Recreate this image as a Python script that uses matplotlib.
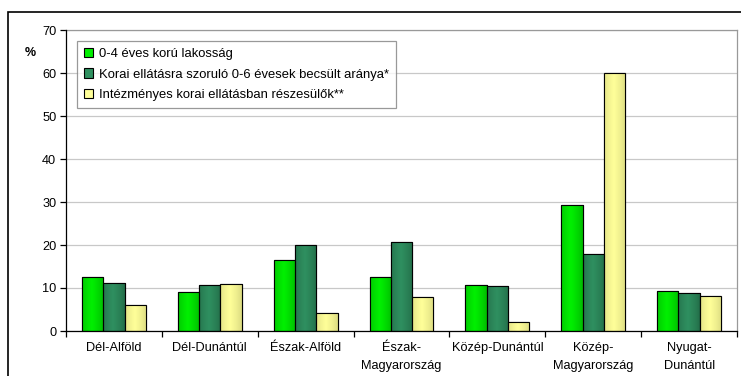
import matplotlib
matplotlib.use("Agg")
import matplotlib.pyplot as plt
import numpy as np
from matplotlib.patches import Rectangle
from matplotlib.colors import to_rgb

plt.rcParams['font.family'] = ['Liberation Sans', 'DejaVu Sans']

categories = ["Dél-Alföld", "Dél-Dunántúl", "Észak-Alföld", "Észak-\nMagyarország",
              "Közép-Dunántúl", "Közép-\nMagyarország", "Nyugat-\nDunántúl"]
series_names = ["0-4 éves korú lakosság",
                "Korai ellátásra szoruló 0-6 évesek becsült aránya*",
                "Intézményes korai ellátásban részesülők**"]
lakossag = [12.6, 9.0, 16.4, 12.6, 10.6, 29.3, 9.2]
becsult = [11.2, 10.6, 20.0, 20.8, 10.4, 17.8, 8.8]
intezmenyes = [6.0, 10.9, 4.3, 7.9, 2.2, 60.0, 8.1]
colors = ["#00F000", "#2F9060", "#FFFF99"]
edge_colors = ["#00B800", "#226B47", "#D8D880"]

fig = plt.figure(figsize=(7.41, 3.76), dpi=100)
fig.patches.append(Rectangle((8/741, -0.01), 1.0, 1 - 12/376 + 0.01, transform=fig.transFigure,
                             fill=False, edgecolor='black', linewidth=1.2))
ax = fig.add_axes([66/741, 1 - 331/376, (737-66)/741, (331-30)/376])

x = np.arange(len(categories))
w = 0.222
t = np.linspace(0, 1, 64)
prof = np.clip(1 - np.abs(t - 0.45) / 0.55, 0, 1) ** 0.7
for i, (vals, c, ec, name) in enumerate(zip([lakossag, becsult, intezmenyes], colors,
                                             edge_colors, series_names)):
    bars = ax.bar(x + (i - 1) * w, vals, width=w, color=c, edgecolor='black', linewidth=0.8,
                  label=name, zorder=3)
    c1 = np.array(to_rgb(c)); c0 = np.array(to_rgb(ec))
    grad = (c0[None, :] * (1 - prof[:, None]) + c1[None, :] * prof[:, None])[None, :, :]
    for b in bars:
        bx, by = b.get_x(), b.get_y()
        bw, bh = b.get_width(), b.get_height()
        im = ax.imshow(grad, extent=[bx, bx + bw, by, by + bh], aspect='auto',
                       zorder=3.5, interpolation='bilinear')
        im.set_clip_path(b)
        ax.add_patch(Rectangle((bx, by), bw, bh, fill=False, edgecolor='black',
                               linewidth=0.8, zorder=4))

ax.set_xlim(-0.5, len(categories) - 0.5)
ax.set_ylim(0, 70)
ax.set_yticks(range(0, 71, 10))
ax.yaxis.grid(True, color='#C8C8C8', linewidth=0.9, zorder=0)
ax.set_xticks(x)
ax.set_xticklabels(categories, fontsize=9.2, linespacing=1.6)
ax.set_xticks(np.arange(-0.5, len(categories), 1), minor=True)
ax.tick_params(axis='x', which='major', length=0, pad=8)
ax.tick_params(axis='x', which='minor', length=4, width=0.9, direction='out')
ax.tick_params(axis='y', length=4, width=0.9, labelsize=9.2, pad=3)
for s in ['top', 'right']:
    ax.spines[s].set_color('#999999')
    ax.spines[s].set_linewidth(0.9)
for s in ['left', 'bottom']:
    ax.spines[s].set_color('black')
    ax.spines[s].set_linewidth(0.9)
    ax.spines[s].set_zorder(6)

fig.text(30/741, 1 - 53/376, "%", fontsize=9, fontweight='bold', ha='center', va='center')

leg = ax.legend(loc='upper left', bbox_to_anchor=(11/671, 1 - 11/301), fontsize=9.4,
                frameon=True, fancybox=False, handlelength=0.7, handleheight=0.7,
                handletextpad=0.4, borderpad=0.55, labelspacing=0.62, borderaxespad=0)
leg.get_frame().set_edgecolor('#808080')
leg.get_frame().set_linewidth(0.9)
leg.set_zorder(7)

fig.savefig("out.png", dpi=100)
